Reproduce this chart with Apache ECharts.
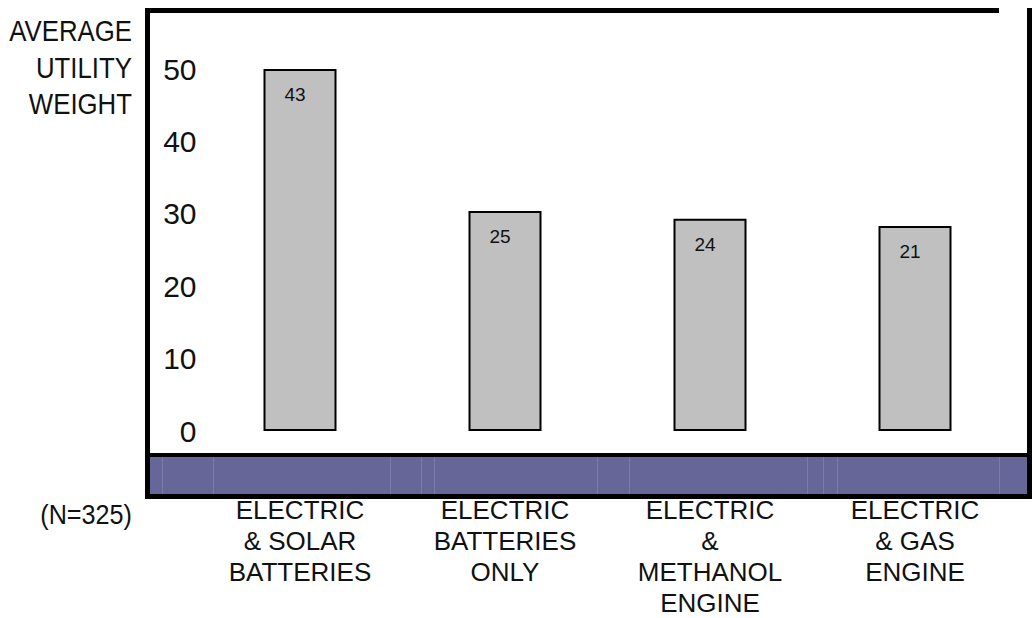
<!DOCTYPE html>
<html>
<head>
<meta charset="utf-8">
<script src="https://cdn.jsdelivr.net/npm/echarts@6/dist/echarts.min.js"></script>
<style>
html,body{margin:0;padding:0;background:#fff;}
#chart{width:1032px;height:618px;}
</style>
</head>
<body>
<div id="chart"></div>
<script>
// ---- data ----
var categories = ['ELECTRIC\n& SOLAR\nBATTERIES', 'ELECTRIC\nBATTERIES\nONLY', 'ELECTRIC\n&\nMETHANOL\nENGINE', 'ELECTRIC\n& GAS\nENGINE'];
var barHeights = [50, 30.4, 29.3, 28.3];      // drawn bar heights
var printedValues = ['43', '25', '24', '21']; // numbers printed inside the bars
var yTicks = [0, 10, 20, 30, 40, 50];
var axisTitleLines = ['AVERAGE', 'UTILITY', 'WEIGHT'];
var sampleNote = '(N=325)';

var REG = "Liberation Sans, Arial, sans-serif";

var chart = echarts.init(document.getElementById('chart'), null, {renderer: 'svg'});

var bandLines = [162, 213, 390, 421, 434, 597, 629, 807, 823, 837, 999];
var graphics = [
  // frame
  {type: 'rect', shape: {x: 145, y: 8, width: 854, height: 5}, style: {fill: '#000'}},
  {type: 'rect', shape: {x: 145, y: 8, width: 5, height: 491}, style: {fill: '#000'}},
  {type: 'rect', shape: {x: 1027, y: 8, width: 5, height: 491}, style: {fill: '#000'}},
  {type: 'rect', shape: {x: 145, y: 453, width: 887, height: 4}, style: {fill: '#000'}},
  {type: 'rect', shape: {x: 150, y: 457, width: 877, height: 37}, style: {fill: '#666699'}},
  {type: 'rect', shape: {x: 145, y: 494, width: 887, height: 5}, style: {fill: '#000'}}
];
bandLines.forEach(function (x) {
  graphics.push({type: 'line', shape: {x1: x + 0.5, y1: 457, x2: x + 0.5, y2: 494},
    style: {stroke: '#8585b0', lineWidth: 1, opacity: 0.7}});
});
axisTitleLines.forEach(function (t, i) {
  graphics.push({type: 'text', x: 132, y: 31 + i * 36.5, scaleX: 0.86, style: {
    text: t, fill: '#111', font: '30px ' + REG, textAlign: 'right', textVerticalAlign: 'middle'}});
});
graphics.push({type: 'text', x: 132, y: 515, scaleX: 0.9, style: {
  text: sampleNote, fill: '#111', font: '28px ' + REG, textAlign: 'right', textVerticalAlign: 'middle'}});

chart.setOption({
  animation: false,
  backgroundColor: '#fff',
  grid: {left: 197.5, width: 820, top: 69, bottom: 181, containLabel: false},
  xAxis: {
    type: 'category',
    data: categories,
    axisLine: {show: false},
    axisTick: {show: false},
    axisLabel: {
      interval: 0, margin: 63, color: '#111', fontSize: 26, lineHeight: 31,
      fontFamily: REG, align: 'center', verticalAlign: 'top'
    }
  },
  yAxis: {
    type: 'value',
    min: yTicks[0], max: yTicks[yTicks.length - 1], interval: 10,
    axisLine: {show: false},
    axisTick: {show: false},
    splitLine: {show: false},
    axisLabel: {margin: 1, color: '#111', fontSize: 30, fontFamily: REG}
  },
  series: [{
    type: 'bar',
    data: barHeights,
    barWidth: 73,
    itemStyle: {color: '#c0c0c0', borderColor: '#000', borderWidth: 2},
    label: {
      show: true, position: 'insideTop', distance: 16, offset: [-5, 0],
      formatter: function (p) { return printedValues[p.dataIndex]; },
      color: '#111', fontSize: 19, fontFamily: REG
    }
  }],
  graphic: graphics
});
</script>
</body>
</html>
